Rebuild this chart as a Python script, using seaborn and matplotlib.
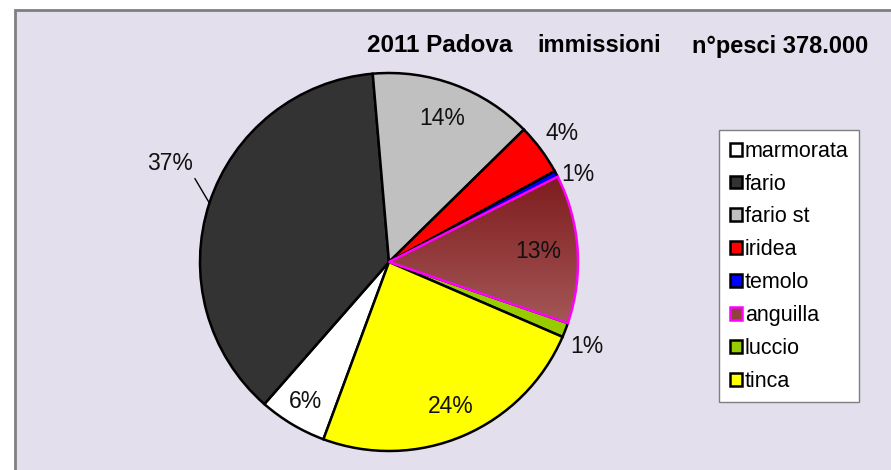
import numpy as np
import matplotlib
matplotlib.use("Agg")
import matplotlib.pyplot as plt
from matplotlib.patches import Patch, Rectangle
from matplotlib.colors import LinearSegmentedColormap
import seaborn as sns

# data: fish released in Padova, 2011 (total 378.000)
species = ["marmorata", "fario", "fario st", "iridea", "temolo", "anguilla", "luccio", "tinca"]
counts = [22000, 140500, 53000, 16500, 2000, 48000, 4700, 91300]
colors = ["#FFFFFF", "#333333", "#C0C0C0", "#FF0000", "#0000FF", "#934040", "#99CC00", "#FFFF00"]
edge_colors = ["black", "black", "black", "black", "black", "#FF00FF", "black", "black"]

# label placement (radius factor, angle shift in degrees)
label_r = [0.86, 1.27, 0.81, 1.14, 1.10, 0.79, 1.14, 0.83]
label_shift = [0, -6, 0, 0, -3, 0, -2, 0]

sns.set_style("white")
plt.rcParams["font.family"] = ["Liberation Sans", "DejaVu Sans"]
plt.rcParams["text.color"] = "black"

fig = plt.figure(figsize=(8.91, 4.70), dpi=100)
fig.patch.set_facecolor("white")

# chart area background with border
bg = Rectangle((15 / 891, -0.01), 1.0, 1 - 10 / 470 + 0.01,
               transform=fig.transFigure, facecolor="#E4DFEC",
               edgecolor="#7F7F7F", linewidth=2, zorder=-5)
fig.patches.append(bg)

ax = fig.add_axes([200 / 891, 19 / 470, 378 / 891, 378 / 470])
ax.set_zorder(1)
ax.patch.set_visible(False)
total = sum(counts)
wedges, _ = ax.pie(counts, colors=colors, startangle=249.7, counterclock=False,
                   radius=1.0, wedgeprops=dict(linewidth=1.8, edgecolor="black"))
for w, ec in zip(wedges, edge_colors):
    w.set_edgecolor(ec)

# gradient fill for anguilla
ang = wedges[species.index("anguilla")]
cmap = LinearSegmentedColormap.from_list("ang", ["#7A1416", "#A85D5D"])
grad = np.linspace(0, 1, 256).reshape(-1, 1)
img = ax.imshow(grad, cmap=cmap, extent=(0, 1.05, -0.4, 0.55), aspect="auto",
                origin="upper", zorder=1.5)
img.set_clip_path(ang)
ang.set_facecolor("none")
ang.set_zorder(3)

ax.set_xlim(-1, 1)
ax.set_ylim(-1, 1)
ax.set_aspect("auto")
ax.axis("off")

for i, w in enumerate(wedges):
    mid = (w.theta1 + w.theta2) / 2
    a = np.deg2rad(mid + label_shift[i])
    pct = f"{counts[i] / total * 100:.0f}%"
    x, y = label_r[i] * np.cos(a), label_r[i] * np.sin(a)
    if label_r[i] > 1.2:
        m = np.deg2rad(mid)
        ax.annotate(pct, xy=(np.cos(m), np.sin(m)), xytext=(x, y),
                    ha="center", va="center", fontsize=16.5, color="#111111", zorder=5,
                    arrowprops=dict(arrowstyle="-", color="black", lw=1,
                                    relpos=(1.0, 0.0), shrinkA=0, shrinkB=0))
    else:
        ax.text(x, y, pct, ha="center", va="center", fontsize=16.5, color="#111111", zorder=5)

# title pieces
ty = 1 - 46 / 470
fig.text(367 / 891, ty, "2011 Padova", fontsize=17.5, fontweight="bold", va="center")
fig.text(537 / 891, ty, "immissioni", fontsize=17, fontweight="bold", va="center")
fig.text(692 / 891, ty, "n°pesci 378.000", fontsize=17, fontweight="bold", va="center")

handles = [Patch(facecolor=c, edgecolor=e, linewidth=1.8) for c, e in zip(colors, edge_colors)]
leg = fig.legend(handles, species, loc="upper left", bbox_to_anchor=(719 / 891, 1 - 130 / 470),
                 frameon=True, fancybox=False, edgecolor="#7F7F7F", framealpha=1,
                 fontsize=15.5, handlelength=0.55, handleheight=0.55, handletextpad=0.15,
                 labelspacing=0.55, borderpad=0.5, borderaxespad=0)
leg.get_frame().set_linewidth(1)

fig.savefig("out.png", dpi=100)
